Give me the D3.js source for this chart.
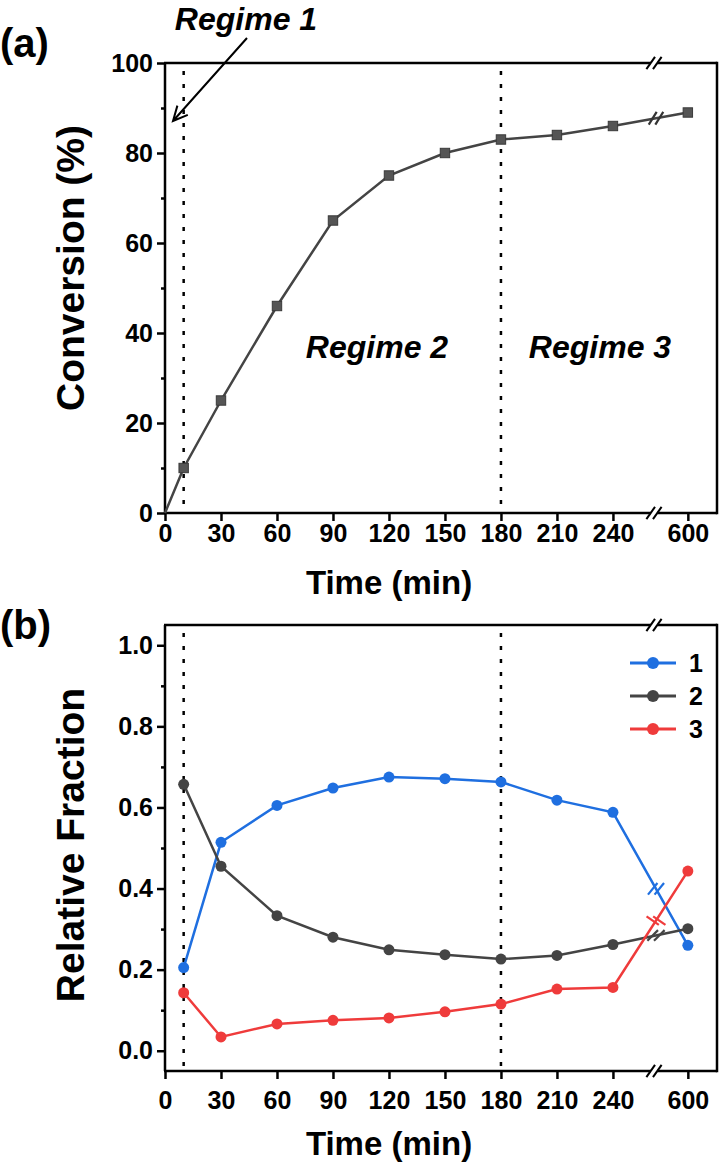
<!DOCTYPE html>
<html>
<head>
<meta charset="utf-8">
<script src="https://cdn.jsdelivr.net/npm/d3@7"></script>
<style>
  body { margin: 0; background: #fff; }
  svg text { font-family: "Liberation Sans", Arial, sans-serif; font-weight: bold; fill: #000; }
</style>
</head>
<body>
<svg id="fig" width="720" height="1163"></svg>
<script>
// ---- data ----
const timeA = [0, 10, 30, 60, 90, 120, 150, 180, 210, 240, 600];
const conversion = [0, 10, 25, 46, 65, 75, 80, 83, 84, 86, 89];

const timeB = [10, 30, 60, 90, 120, 150, 180, 210, 240, 600];
const frac1 = [0.205, 0.514, 0.605, 0.648, 0.675, 0.671, 0.663, 0.618, 0.588, 0.260];
const frac2 = [0.657, 0.455, 0.333, 0.280, 0.249, 0.237, 0.226, 0.235, 0.262, 0.301];
const frac3 = [0.143, 0.034, 0.066, 0.075, 0.081, 0.096, 0.115, 0.152, 0.156, 0.443];
const seriesNames = ["1", "2", "3"];

const xTicks = [0, 30, 60, 90, 120, 150, 180, 210, 240, 600];
const yTicksA = [0, 20, 40, 60, 80, 100];
const yMinorA = [10, 30, 50, 70, 90];
const yTicksB = [0, 0.2, 0.4, 0.6, 0.8, 1.0];
const yMinorB = [0.1, 0.3, 0.5, 0.7, 0.9];
const regimeLines = [10, 180];

const svg = d3.select("#fig");
const left = 165, right = 717, brk = 654;

// x axis with a break between 262 and 582 min
const x = d3.scaleLinear()
  .domain([0, 262, 582, 615.5])
  .range([left, brk, brk, right]);

function slash(g, cx, cy, ang, len, color, sw) {
  const a = ang * Math.PI / 180;
  const dx = Math.cos(a) * len / 2, dy = Math.sin(a) * len / 2;
  g.append("line")
    .attr("x1", cx - dx).attr("y1", cy - dy)
    .attr("x2", cx + dx).attr("y2", cy + dy)
    .attr("stroke", color).attr("stroke-width", sw);
}
function breakPair(g, cx, cy, ang, len, color, sw) {
  slash(g, cx - 3.3, cy, ang, len, color, sw);
  slash(g, cx + 3.3, cy, ang, len, color, sw);
}

function drawFrame(g, yTop, yBot, y, ticks, minor, fmt, labelPad, titleY, yTitle, yTitleCy) {
  const sw = 2.5;
  // bottom axis & top border with the break gap
  [yTop, yBot].forEach(yy => {
    g.append("line").attr("x1", left - 1).attr("x2", brk - 3.3).attr("y1", yy).attr("y2", yy)
      .attr("stroke", "#000").attr("stroke-width", sw);
    g.append("line").attr("x1", brk + 3.3).attr("x2", right).attr("y1", yy).attr("y2", yy)
      .attr("stroke", "#000").attr("stroke-width", sw);
    breakPair(g, brk, yy, -55, 15, "#000", 2);
  });
  // left and right borders
  g.append("line").attr("x1", left).attr("x2", left).attr("y1", yTop).attr("y2", yBot)
    .attr("stroke", "#000").attr("stroke-width", sw);
  g.append("line").attr("x1", right).attr("x2", right).attr("y1", yTop - 1.2).attr("y2", yBot + 1.2)
    .attr("stroke", "#000").attr("stroke-width", sw);

  // x ticks
  const xa = g.append("g").attr("transform", `translate(0,${yBot})`)
    .call(d3.axisBottom(x).tickValues(xTicks).tickSize(8).tickPadding(labelPad).tickSizeOuter(0));
  xa.select(".domain").remove();
  xa.selectAll("line").attr("stroke-width", 2.5);
  xa.selectAll("text").style("font-size", "25px").attr("fill", "#000");

  // y ticks
  const ya = g.append("g").attr("transform", `translate(${left},0)`)
    .call(d3.axisLeft(y).tickValues(ticks).tickSize(8).tickPadding(4).tickFormat(fmt));
  ya.select(".domain").remove();
  ya.selectAll("line").attr("stroke-width", 2.5);
  ya.selectAll("text").style("font-size", "25px").attr("fill", "#000");
  const ym = g.append("g").attr("transform", `translate(${left},0)`)
    .call(d3.axisLeft(y).tickValues(minor).tickSize(4).tickFormat(""));
  ym.select(".domain").remove();
  ym.selectAll("line").attr("stroke-width", 2.5);

  // regime dotted lines
  g.selectAll(".reg").data(regimeLines).enter().append("line")
    .attr("x1", d => x(d)).attr("x2", d => x(d))
    .attr("y1", yTop + 8).attr("y2", yBot)
    .attr("stroke", "#000").attr("stroke-width", 2.5).attr("stroke-dasharray", "4,9");

  g.append("text").attr("x", (left + right) / 2 - 52).attr("y", titleY)
    .attr("text-anchor", "middle").style("font-size", "33px").text("Time (min)");
  g.append("text")
    .attr("transform", `translate(84,${yTitleCy}) rotate(-90)`)
    .attr("text-anchor", "middle").style("font-size", "39px").text(yTitle);
}

// break mark on a series segment crossing the axis break
function seriesBreak(g, xs, ys, y, ang, color) {
  const n = xs.length;
  const x0 = x(xs[n - 2]), y0 = y(ys[n - 2]), x1 = x(xs[n - 1]), y1 = y(ys[n - 1]);
  const cx = brk + 2;
  const t = (cx - x0) / (x1 - x0);
  const cy = y0 + t * (y1 - y0);
  breakPair(g, cx, cy, ang, 15, color, 2.2);
}

// ---------------- panel (a) ----------------
const gA = svg.append("g");
const yA = d3.scaleLinear().domain([0, 100]).range([513, 63]);
drawFrame(gA, 63, 513, yA, yTicksA, yMinorA, d3.format("d"), 3, 594, "Conversion (%)", 268);

const lineA = d3.line().x((d, i) => x(timeA[i])).y(d => yA(d));
gA.append("path").datum(conversion).attr("d", lineA)
  .attr("fill", "none").attr("stroke", "#444").attr("stroke-width", 2.5);
seriesBreak(gA, timeA, conversion, yA, -58, "#333");
gA.selectAll(".sq").data(conversion.map((v, i) => [timeA[i], v]).filter(d => d[0] > 0))
  .enter().append("rect")
  .attr("x", d => x(d[0]) - 4.7).attr("y", d => yA(d[1]) - 4.7)
  .attr("width", 9.4).attr("height", 9.4)
  .attr("fill", "#555").attr("stroke", "#3a3a3a").attr("stroke-width", 1);

gA.append("text").attr("x", 0).attr("y", 57).style("font-size", "40px").text("(a)");
gA.selectAll(".regt").data([["Regime 1", 246, 30], ["Regime 2", 377, 358], ["Regime 3", 600, 358]])
  .enter().append("text")
  .attr("x", d => d[1]).attr("y", d => d[2])
  .attr("text-anchor", "middle").style("font-size", "32px").style("font-style", "italic")
  .text(d => d[0]);
// arrow to regime 1
{
  const x0 = 247, y0 = 38, x1 = 173, y1 = 121;
  const a = Math.atan2(y1 - y0, x1 - x0), L = 16, s = 0.45;
  gA.append("path")
    .attr("d", `M${x0},${y0}L${x1},${y1}` +
      `M${x1 - L * Math.cos(a - s)},${y1 - L * Math.sin(a - s)}L${x1},${y1}` +
      `L${x1 - L * Math.cos(a + s)},${y1 - L * Math.sin(a + s)}`)
    .attr("fill", "none").attr("stroke", "#000").attr("stroke-width", 2);
}

// ---------------- panel (b) ----------------
const gB = svg.append("g");
const yB = d3.scaleLinear().domain([-0.05, 1.05]).range([1071, 625]);
drawFrame(gB, 625, 1071, yB, yTicksB, yMinorB, d3.format(".1f"), 12, 1155, "Relative Fraction", 845);

const colors = ["#1f6fe0", "#444444", "#ef3b3b"];
const breakAngles = [-51, -45, 35];
const fracs = [frac1, frac2, frac3];
const lineB = d3.line().x((d, i) => x(timeB[i])).y(d => yB(d));

fracs.forEach((vals, k) => {
  gB.append("path").datum(vals).attr("d", lineB)
    .attr("fill", "none").attr("stroke", colors[k]).attr("stroke-width", 2.5);
});
fracs.forEach((vals, k) => {
  seriesBreak(gB, timeB, vals, yB, breakAngles[k], colors[k]);
  gB.selectAll(".pt" + k).data(vals).enter().append("circle")
    .attr("cx", (d, i) => x(timeB[i])).attr("cy", d => yB(d)).attr("r", 5.5)
    .attr("fill", colors[k]);
});

// legend
const leg = gB.append("g");
seriesNames.forEach((name, k) => {
  const yy = 663 + k * 33;
  leg.append("line").attr("x1", 630).attr("x2", 676).attr("y1", yy).attr("y2", yy)
    .attr("stroke", colors[k]).attr("stroke-width", 3);
  leg.append("circle").attr("cx", 653).attr("cy", yy).attr("r", 6).attr("fill", colors[k]);
  leg.append("text").attr("x", 689).attr("y", yy).attr("dy", "0.36em")
    .style("font-size", "25px").text(name);
});

gB.append("text").attr("x", 0).attr("y", 639).style("font-size", "40px").text("(b)");
</script>
</body>
</html>
